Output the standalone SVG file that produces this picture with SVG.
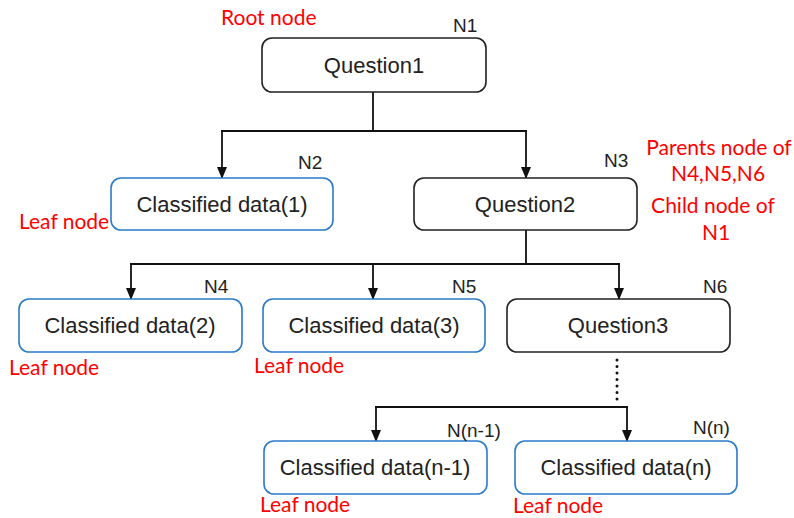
<svg xmlns="http://www.w3.org/2000/svg" width="794" height="518" viewBox="0 0 794 518">
<style>
.q{fill:#fff;stroke:#222;stroke-width:1.6}
.leaf{fill:#fff;stroke:#2b7bc9;stroke-width:1.6}
.t{font-family:"Liberation Sans",Arial,sans-serif;font-size:22px;fill:#222;text-anchor:middle}
.n{font-family:"Liberation Sans",Arial,sans-serif;font-size:19px;fill:#222}
.r{font-family:Lato,"Liberation Sans",sans-serif;font-size:21px;fill:#ff0000}
.c{fill:none;stroke:#111;stroke-width:1.8}
.a{fill:none;stroke:#111;stroke-width:1.8;marker-end:url(#ah)}
.d{fill:none;stroke:#111;stroke-width:3;stroke-linecap:round;stroke-dasharray:0 6.5}
</style>
<defs>
<marker id="ah" markerWidth="12" markerHeight="10" refX="11" refY="5" orient="auto" markerUnits="userSpaceOnUse" viewBox="0 0 12 10">
<path d="M0,0 L12,5 L0,10 Z" fill="#111"/>
</marker>
</defs>
<g id="connectors">
<path class="c" d="M373,92 V131 M221,131 H527"/>
<line class="a" x1="222" y1="131" x2="222" y2="178"/>
<line class="a" x1="526" y1="131" x2="526" y2="178"/>
<path class="c" d="M526,230 V264 M130,264 H620"/>
<line class="a" x1="131" y1="264" x2="131" y2="299"/>
<line class="a" x1="373" y1="264" x2="373" y2="299"/>
<line class="a" x1="619" y1="264" x2="619" y2="299"/>
<line class="d" x1="617" y1="360" x2="617" y2="400"/>
<path class="c" d="M375,407 H628"/>
<line class="a" x1="376" y1="407" x2="376" y2="441"/>
<line class="a" x1="627" y1="407" x2="627" y2="441"/>
</g>
<g id="N1">
<rect class="q" x="262" y="38" width="224" height="54" rx="10"/>
<text class="t" x="374" y="73">Question1</text>
<text class="n" x="453" y="32">N1</text>
<text class="r" x="221" y="25">Root node</text>
</g>
<g id="N2">
<rect class="leaf" x="111" y="178" width="222" height="52" rx="10"/>
<text class="t" x="222" y="212">Classified data(1)</text>
<text class="n" x="298" y="169">N2</text>
<text class="r" x="19" y="229">Leaf node</text>
</g>
<g id="N3">
<rect class="q" x="414" y="178" width="223" height="52" rx="10"/>
<text class="t" x="525" y="212">Question2</text>
<text class="n" x="604" y="167">N3</text>
<text class="r" x="719" y="155" text-anchor="middle">Parents node of</text>
<text class="r" x="718" y="181" text-anchor="middle">N4,N5,N6</text>
<text class="r" x="713" y="213" text-anchor="middle">Child node of</text>
<text class="r" x="716" y="240" text-anchor="middle">N1</text>
</g>
<g id="N4">
<rect class="leaf" x="19" y="299" width="223" height="53" rx="10"/>
<text class="t" x="130" y="333">Classified data(2)</text>
<text class="n" x="204" y="293">N4</text>
<text class="r" x="9" y="375">Leaf node</text>
</g>
<g id="N5">
<rect class="leaf" x="263" y="299" width="222" height="53" rx="10"/>
<text class="t" x="374" y="333">Classified data(3)</text>
<text class="n" x="452" y="293">N5</text>
<text class="r" x="254" y="373">Leaf node</text>
</g>
<g id="N6">
<rect class="q" x="507" y="299" width="223" height="53" rx="10"/>
<text class="t" x="618" y="333">Question3</text>
<text class="n" x="703" y="293">N6</text>
</g>
<g id="Nn-1">
<rect class="leaf" x="264" y="441" width="223" height="53" rx="10"/>
<text class="t" x="375" y="475">Classified data(n-1)</text>
<text class="n" x="447" y="437">N(n-1)</text>
<text class="r" x="260" y="512">Leaf node</text>
</g>
<g id="Nn">
<rect class="leaf" x="515" y="441" width="222" height="53" rx="10"/>
<text class="t" x="626" y="475">Classified data(n)</text>
<text class="n" x="693" y="434">N(n)</text>
<text class="r" x="513" y="513">Leaf node</text>
</g>
</svg>
